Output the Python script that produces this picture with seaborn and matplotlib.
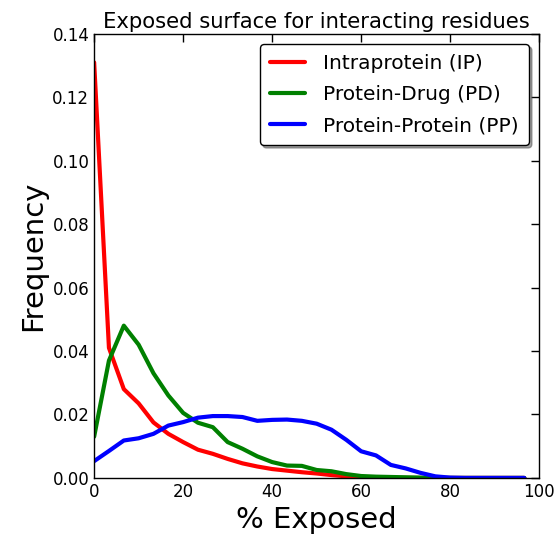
import numpy as np
import pandas as pd
import seaborn as sns
import matplotlib
matplotlib.use('Agg')
import matplotlib.pyplot as plt

# bin centres (% exposed), 30 bins over 0-100
exposed = [round(i * 100 / 30, 2) for i in range(30)]

intra = [0.131, 0.041, 0.028, 0.0235, 0.0175, 0.0139, 0.0113, 0.0089, 0.0076, 0.006,
         0.0046, 0.0036, 0.0028, 0.0023, 0.0018, 0.0014, 0.0009, 0.0005, 0.0002, 0.0001,
         0.0, 0.0, 0.0, 0.0, 0.0, 0.0, 0.0, 0.0, 0.0, 0.0]
drug = [0.013, 0.037, 0.048, 0.042, 0.033, 0.026, 0.0205, 0.0174, 0.016, 0.0113,
        0.0092, 0.0068, 0.005, 0.0039, 0.0038, 0.0025, 0.0021, 0.0012, 0.0006, 0.0004,
        0.0003, 0.0002, 0.0001, 0.0, 0.0, 0.0, 0.0, 0.0, 0.0, 0.0]
ppi = [0.0053, 0.0085, 0.0118, 0.0125, 0.0139, 0.0165, 0.0176, 0.019, 0.0195, 0.0195,
       0.0192, 0.018, 0.0183, 0.0184, 0.018, 0.0171, 0.0152, 0.012, 0.0084, 0.0071,
       0.0041, 0.003, 0.0016, 0.0005, 0.0001, 0.0, 0.0, 0.0, 0.0, 0.0]

labels = ['Intraprotein (IP)', 'Protein-Drug (PD)', 'Protein-Protein (PP)']
colors = ['red', 'green', 'blue']

df = pd.DataFrame({
    'exposed': exposed * 3,
    'freq': intra + drug + ppi,
    'type': [labels[0]] * 30 + [labels[1]] * 30 + [labels[2]] * 30,
})

sns.set_style('white')
plt.rcParams['xtick.direction'] = 'in'
plt.rcParams['ytick.direction'] = 'in'
plt.rcParams['xtick.top'] = True
plt.rcParams['ytick.right'] = True
plt.rcParams['xtick.major.size'] = 6
plt.rcParams['ytick.major.size'] = 6
plt.rcParams['text.color'] = 'black'
plt.rcParams['axes.labelcolor'] = 'black'
plt.rcParams['font.family'] = ['DejaVu Sans']

fig = plt.figure(figsize=(5.57, 5.37), dpi=100)
ax = fig.add_axes([0.169, 0.110, 0.799, 0.827])

sns.lineplot(data=df, x='exposed', y='freq', hue='type', palette=colors,
             linewidth=3, ax=ax)

ax.set_xlim(0, 100)
ax.set_ylim(0, 0.14)
ax.set_xticks([0, 20, 40, 60, 80, 100])
ax.set_yticks(np.arange(0, 0.141, 0.02))
ax.set_yticklabels(['%.2f' % v for v in np.arange(0, 0.141, 0.02)])
ax.tick_params(labelsize=12, colors='black', width=1)
for s in ax.spines.values():
    s.set_color('black')
    s.set_linewidth(1)

ax.set_title('Exposed surface for interacting residues', fontsize=15.2, pad=4)
ax.set_xlabel('% Exposed', fontsize=21)
ax.set_ylabel('Frequency', fontsize=21)

leg = ax.legend(loc='upper right', fontsize=14.5, fancybox=True, shadow=True,
                handlelength=1.75, borderpad=0.5, labelspacing=0.6,
                handletextpad=0.9, framealpha=1, borderaxespad=0.5)
leg.get_frame().set_edgecolor('black')

fig.savefig('out.png', dpi=100)
